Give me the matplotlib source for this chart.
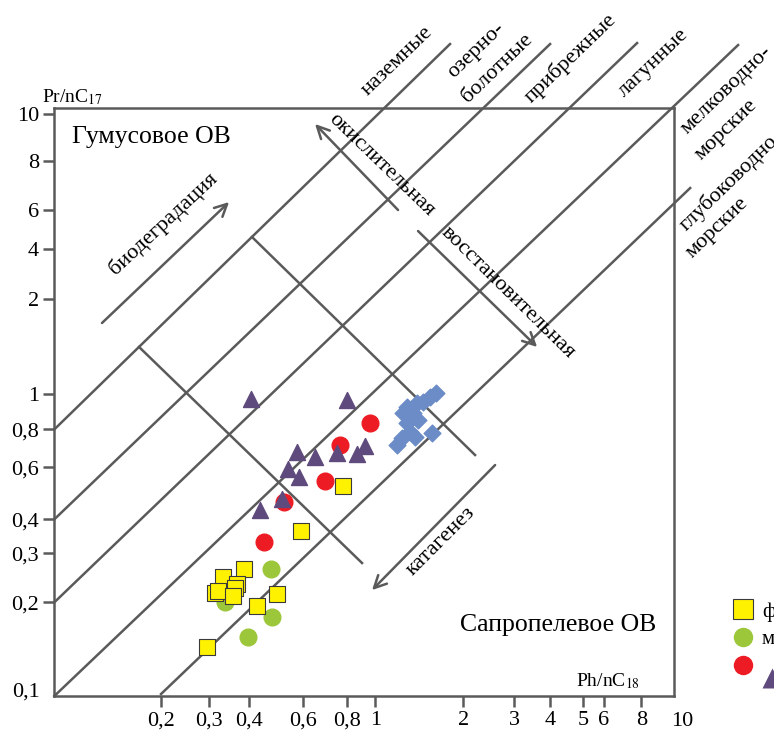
import matplotlib
matplotlib.use('Agg')
import matplotlib.pyplot as plt
from matplotlib.lines import Line2D

plt.rcParams['font.family'] = ['Liberation Serif', 'DejaVu Serif']
plt.rcParams['mathtext.fontset'] = 'stix'

GRAY = '#5a5a5a'

# точки (Ph/nC18, Pr/nC17)
sq_x = [0.855, 0.625, 0.410, 0.350, 0.389, 0.383, 0.330, 0.338, 0.377, 0.523, 0.451, 0.311]
sq_y = [0.518, 0.364, 0.271, 0.254, 0.241, 0.233, 0.224, 0.228, 0.219, 0.223, 0.203, 0.147]

green_x = [0.500, 0.356, 0.504, 0.422]
green_y = [0.271, 0.209, 0.186, 0.159]

red_x = [1.044, 0.836, 0.747, 0.551, 0.475]
red_y = [0.849, 0.715, 0.539, 0.457, 0.334]

tri_x = [0.431, 0.880, 0.607, 0.694, 0.817, 0.948, 1.006, 0.568, 0.616, 0.543, 0.461]
tri_y = [1.025, 1.017, 0.677, 0.651, 0.671, 0.666, 0.709, 0.592, 0.556, 0.468, 0.430]

dia_x = [1.706, 1.631, 1.548, 1.481, 1.375, 1.335, 1.438, 1.492, 1.375, 1.406, 1.325, 1.277, 1.459, 1.656]
dia_y = [1.074, 1.041, 1.001, 0.993, 0.963, 0.919, 0.919, 0.870, 0.849, 0.791, 0.755, 0.715, 0.761, 0.785]

# линии фациальных границ и поперечные линии
zone_lines = [
    ((0.1, 0.808), (1.892, 16.55)),
    ((0.1, 0.3994), (3.980, 16.55)),
    ((0.1, 0.2084), (7.596, 16.68)),
    ((0.1, 0.1), (16.09, 16.42)),
    ((0.221, 0.1016), (11.27, 5.355)),
    ((0.1877, 1.541), (0.984, 0.2836)),
    ((0.4345, 3.648), (2.279, 0.661)),
]

# стрелки: (хвост, острие)
arrows = [
    ((0.1425, 1.860), (0.3664, 4.799)),
    ((1.286, 4.508), (0.694, 8.844)),
    ((1.492, 3.823), (3.614, 1.541)),
    ((2.645, 0.611), (1.060, 0.2294)),
]

x_ticks = [0.2210, 0.3164, 0.4258, 0.6333, 0.8822, 1.0864, 2.089, 3.052, 3.990, 5.075, 5.932, 7.845]
x_labels = ['0,2', '0,3', '0,4', '0,6', '0,8', '1', '2', '3', '4', '5', '6', '8']
y_ticks = [9.541, 6.632, 4.508, 3.328, 2.244, 1.070, 0.8084, 0.6003, 0.3994, 0.3059, 0.2084]
y_labels = ['10', '8', '6', '4', '2', '1', '0,8', '0,6', '0,4', '0,3', '0,2']

fig = plt.figure(figsize=(7.74, 7.36), dpi=100)
ax = fig.add_axes([0.0702, 0.0543, 0.8007, 0.7985])
ax.set_xscale('log')
ax.set_yscale('log')
ax.set_xlim(0.1, 10)
ax.set_ylim(0.1, 10)

for (x0, y0), (x1, y1) in zone_lines:
    ax.plot([x0, x1], [y0, y1], color=GRAY, lw=1.8, clip_on=False, zorder=1)

for tail, head in arrows:
    ax.annotate('', xy=head, xytext=tail,
                arrowprops=dict(arrowstyle='->', color=GRAY, lw=1.8,
                                mutation_scale=22, shrinkA=0, shrinkB=0))

ax.scatter(dia_x, dia_y, marker='D', s=8.5**2, c='#6b8cc7', zorder=3)
ax.scatter(green_x, green_y, marker='o', s=12**2, c='#9dc73b', zorder=3)
ax.scatter(sq_x, sq_y, marker='s', s=11.5**2, c='#fff200', edgecolors='#3a3a3a',
           linewidths=0.8, zorder=4)
ax.scatter(red_x, red_y, marker='o', s=12**2, c='#ed1c24', zorder=5)
ax.scatter(tri_x, tri_y, marker='^', s=11.5**2, c='#5f4a7d', zorder=6)

# оси
for sp in ax.spines.values():
    sp.set_color(GRAY)
    sp.set_linewidth(1.8)
ax.minorticks_off()
ax.set_xticks(x_ticks)
ax.set_xticklabels(x_labels)
ax.set_yticks(y_ticks)
ax.set_yticklabels(y_labels)
ax.tick_params(length=8, width=1.8, color=GRAY, labelsize=16, pad=3)
ax.text(1.013, -0.044, '10', transform=ax.transAxes, ha='center', va='center', fontsize=16)
ax.text(-0.023, 0.006, '0,1', transform=ax.transAxes, ha='right', va='center', fontsize=16)

ax.text(0.0286, 1.019, 'Pr/nC$_{17}$', transform=ax.transAxes, ha='center', va='center', fontsize=14)
ax.text(0.945, 0.0255, 'Ph/nC$_{18}$', transform=ax.transAxes, ha='right', va='center', fontsize=14)

ax.text(0.0287, 0.951, 'Гумусовое ОВ', transform=ax.transAxes, ha='left', va='center', fontsize=18.5)
ax.text(0.6547, 0.1208, 'Сапропелевое ОВ', transform=ax.transAxes, ha='left', va='center', fontsize=18.5)

rot_texts = [
    ('биодеградация', 0.1754, 0.803, 43),
    ('окислительная', 0.527, 0.9035, -44),
    ('восстановительная', 0.732, 0.687, -44.5),
    ('катагенез', 0.624, 0.2637, 45),
    ('наземные', 0.553, 1.0805, 44),
    ('озерно-', 0.6805, 1.099, 44),
    ('болотные', 0.7144, 1.0686, 44),
    ('прибрежные', 0.832, 1.0856, 44),
    ('лагунные', 0.966, 1.077, 44),
    ('мелководно-', 1.085, 1.0311, 44),
    ('морские', 1.0839, 0.963, 44),
    ('глубоководно-', 1.092, 0.878, 44),
    ('морские', 1.0694, 0.796, 44),
]
for s, fx, fy, rot in rot_texts:
    ax.text(fx, fy, s, transform=ax.transAxes, ha='center', va='center',
            rotation=rot, rotation_mode='anchor', fontsize=16, clip_on=False)

# легенда (обрезана краем рисунка, как в оригинале)
h_sq = Line2D([], [], ls='none', marker='s', ms=14, mfc='#fff200', mec='#3a3a3a', mew=0.8)
h_gr = Line2D([], [], ls='none', marker='o', ms=14, mfc='#9dc73b', mec='none')
h_rd = Line2D([], [], ls='none', marker='o', ms=14, mfc='#ed1c24', mec='none')
h_tr = Line2D([], [], ls='none', marker='^', ms=14, mfc='#5f4a7d', mec='none')
fig.legend([h_sq, h_gr, h_rd], ['ф', 'м', ''], loc='upper left',
           bbox_to_anchor=(732.6 / 774, 1 - 602 / 736), frameon=False, fontsize=15,
           handlelength=1.0, handletextpad=0.4, labelspacing=0.4,
           borderpad=0, borderaxespad=0)
fig.legend([h_tr], [''], loc='center', bbox_to_anchor=(772 / 774, 1 - 680 / 736),
           frameon=False, fontsize=15, handlelength=1.0, handletextpad=0,
           borderpad=0, borderaxespad=0)

fig.savefig('out.png', dpi=100)
